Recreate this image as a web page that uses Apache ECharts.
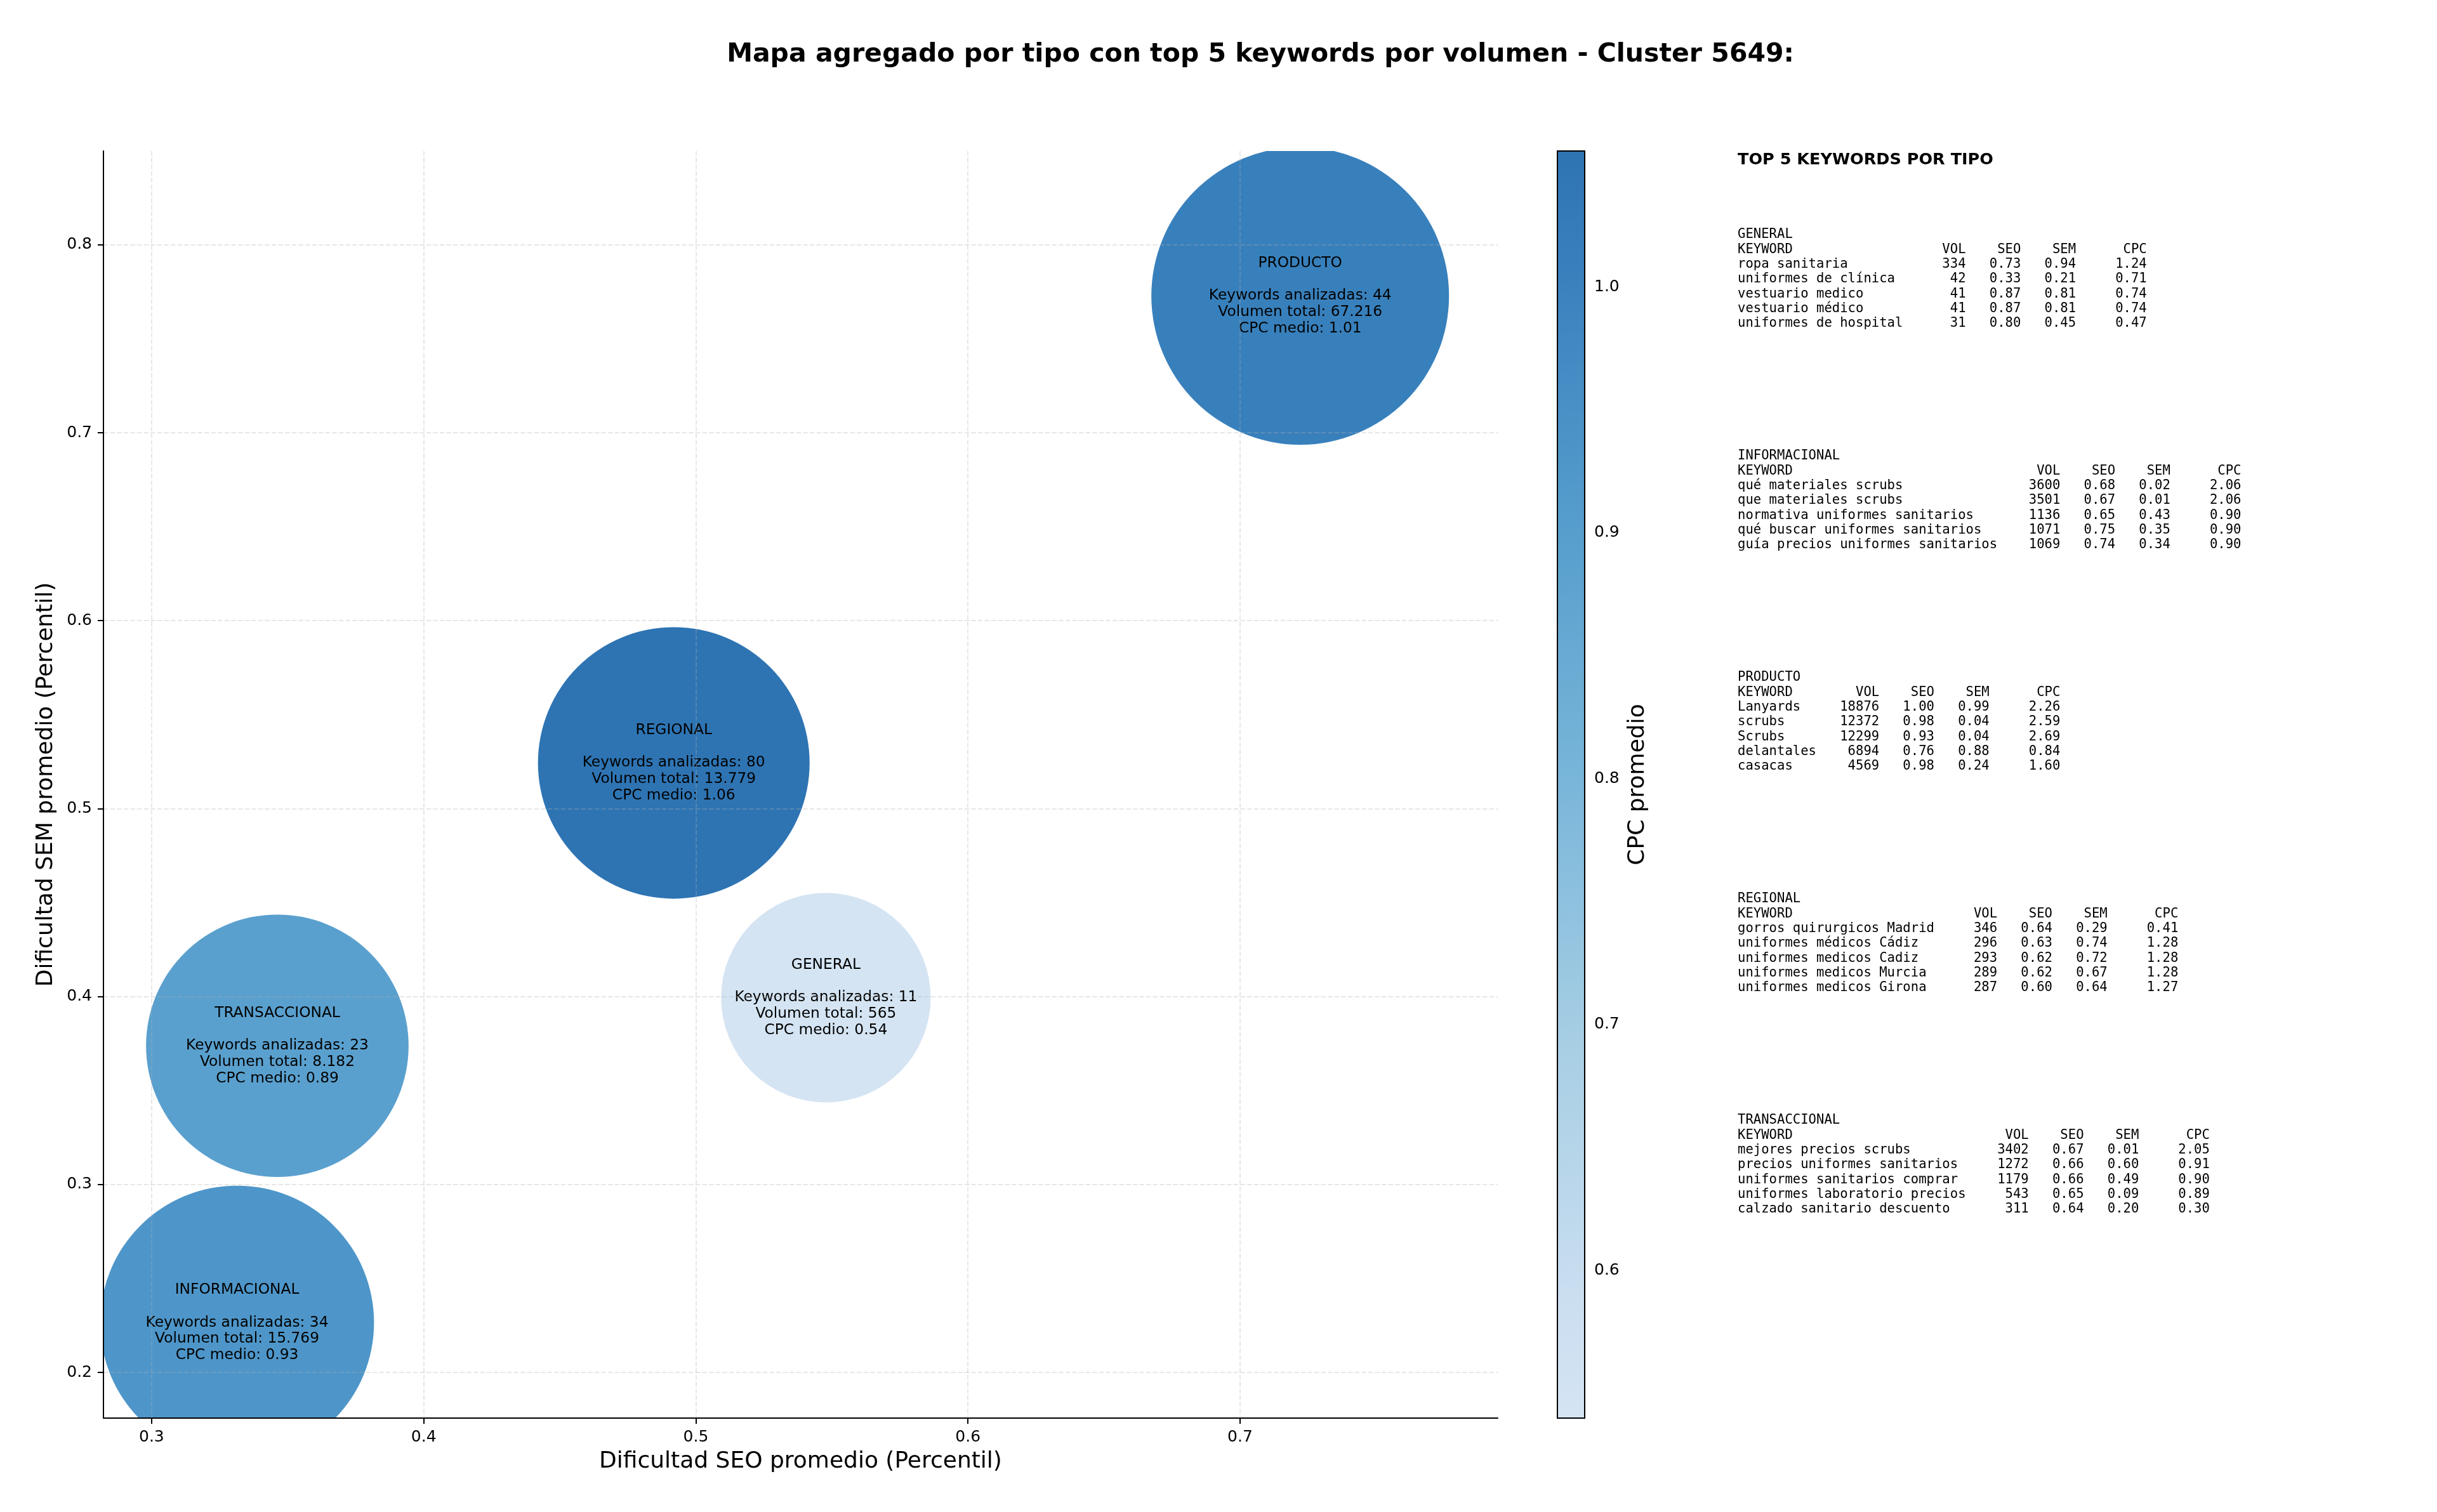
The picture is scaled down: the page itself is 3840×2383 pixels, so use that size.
<!DOCTYPE html>
<html>
<head>
<meta charset="utf-8">
<script src="https://cdn.jsdelivr.net/npm/echarts@6/dist/echarts.min.js"></script>
<style>
html,body{margin:0;padding:0;background:#ffffff;}
#chart{width:3840px;height:2383px;}
</style>
</head>
<body>
<div id="chart"></div>
<script>
// ---------------- DATA ----------------
const chartTitle = 'Mapa agregado por tipo con top 5 keywords por volumen - Cluster 5649:';
const xAxisName = 'Dificultad SEO promedio (Percentil)';
const yAxisName = 'Dificultad SEM promedio (Percentil)';
const colorbarName = 'CPC promedio';
const panelTitle = 'TOP 5 KEYWORDS POR TIPO';

const types    = ['GENERAL', 'INFORMACIONAL', 'PRODUCTO', 'REGIONAL', 'TRANSACCIONAL'];
const seoAvg   = [0.5478, 0.3314, 0.7221, 0.4919, 0.3462];
const semAvg   = [0.3994, 0.2265, 0.7728, 0.5243, 0.3738];
const cpcAvg   = [0.5400, 0.93, 1.01, 1.0553, 0.89];
const kwCount  = [11, 34, 44, 80, 23];
const volTotal = [565, 15769, 67216, 13779, 8182];

const xRange  = [0.2823, 0.7947];
const yRange  = [0.1757, 0.8499];
const cbRange = [0.5400, 1.0553];
const xTicks  = [0.3, 0.4, 0.5, 0.6, 0.7];
const yTicks  = [0.2, 0.3, 0.4, 0.5, 0.6, 0.7, 0.8];
const cbTicks = [0.6, 0.7, 0.8, 0.9, 1.0];

// top 5 keywords per type: [keyword, vol, seo, sem, cpc]
const topGENERAL = [
  ['ropa sanitaria', 334, 0.73, 0.94, 1.24],
  ['uniformes de clínica', 42, 0.33, 0.21, 0.71],
  ['vestuario medico', 41, 0.87, 0.81, 0.74],
  ['vestuario médico', 41, 0.87, 0.81, 0.74],
  ['uniformes de hospital', 31, 0.80, 0.45, 0.47]
];
const topINFORMACIONAL = [
  ['qué materiales scrubs', 3600, 0.68, 0.02, 2.06],
  ['que materiales scrubs', 3501, 0.67, 0.01, 2.06],
  ['normativa uniformes sanitarios', 1136, 0.65, 0.43, 0.90],
  ['qué buscar uniformes sanitarios', 1071, 0.75, 0.35, 0.90],
  ['guía precios uniformes sanitarios', 1069, 0.74, 0.34, 0.90]
];
const topPRODUCTO = [
  ['Lanyards', 18876, 1.00, 0.99, 2.26],
  ['scrubs', 12372, 0.98, 0.04, 2.59],
  ['Scrubs', 12299, 0.93, 0.04, 2.69],
  ['delantales', 6894, 0.76, 0.88, 0.84],
  ['casacas', 4569, 0.98, 0.24, 1.60]
];
const topREGIONAL = [
  ['gorros quirurgicos Madrid', 346, 0.64, 0.29, 0.41],
  ['uniformes médicos Cádiz', 296, 0.63, 0.74, 1.28],
  ['uniformes medicos Cadiz', 293, 0.62, 0.72, 1.28],
  ['uniformes medicos Murcia', 289, 0.62, 0.67, 1.28],
  ['uniformes medicos Girona', 287, 0.60, 0.64, 1.27]
];
const topTRANSACCIONAL = [
  ['mejores precios scrubs', 3402, 0.67, 0.01, 2.05],
  ['precios uniformes sanitarios', 1272, 0.66, 0.60, 0.91],
  ['uniformes sanitarios comprar', 1179, 0.66, 0.49, 0.90],
  ['uniformes laboratorio precios', 543, 0.65, 0.09, 0.89],
  ['calzado sanitario descuento', 311, 0.64, 0.20, 0.30]
];
const panelSections = [topGENERAL, topINFORMACIONAL, topPRODUCTO, topREGIONAL, topTRANSACCIONAL];

// ---------------- HELPERS ----------------
const BLUES = [[247,251,255],[222,235,247],[198,219,239],[158,202,225],[107,174,214],[66,146,198],[33,113,181],[8,81,156],[8,48,107]];
function blues(t) {
  const p = Math.max(0, Math.min(1, t)) * 8;
  const i = Math.min(7, Math.floor(p));
  const f = p - i;
  return BLUES[i].map((c, k) => c + (BLUES[i + 1][k] - c) * f);
}
// truncated Blues (0.2 .. 0.8), drawn with alpha 0.9 on white
function cmapColor(t) {
  const c = blues(0.2 + 0.6 * t).map(v => Math.round(v * 0.9 + 255 * 0.1));
  return 'rgb(' + c[0] + ',' + c[1] + ',' + c[2] + ')';
}
const NSTOP = 24;
const cmapStops = [];
for (let i = 0; i <= NSTOP; i++) cmapStops.push(cmapColor(i / NSTOP));

function fmtThousands(v) { return String(v).replace(/\B(?=(\d{3})+(?!\d))/g, '.'); }
function bubbleRadius(vol) { return Math.sqrt(13361 * Math.log10(vol) - 9500); }
function bubbleLabel(i) {
  return types[i] + '\n\nKeywords analizadas: ' + kwCount[i] +
    '\nVolumen total: ' + fmtThousands(volTotal[i]) +
    '\nCPC medio: ' + cpcAvg[i].toFixed(2);
}
function sectionText(name, rows) {
  const w = Math.max.apply(null, rows.map(r => r[0].length)) + 1;
  const lines = [name,
    'KEYWORD'.padEnd(w) + 'VOL'.padStart(7) + 'SEO'.padStart(7) + 'SEM'.padStart(7) + 'CPC'.padStart(9)];
  rows.forEach(r => {
    lines.push(r[0].padEnd(w) + String(r[1]).padStart(7) + r[2].toFixed(2).padStart(7) +
      r[3].toFixed(2).padStart(7) + r[4].toFixed(2).padStart(9));
  });
  return lines.join('\n');
}

const bubbleData = types.map((t, i) => [seoAvg[i], semAvg[i], cpcAvg[i], volTotal[i]]);

// ---------------- LAYOUT ----------------
const G = {left: 163, top: 238, width: 2197, height: 1997};
const CB = {left: 2454, top: 238, width: 43, height: 1997};
const FONT = 'DejaVu Sans';
const MONO = 'DejaVu Sans Mono';

const graphics = [
  {type: 'text', x: 1986, y: 86, style: {text: chartTitle, align: 'center', verticalAlign: 'middle',
    fontFamily: FONT, fontWeight: 'bold', fontSize: 41, fill: '#000'}},
  {type: 'text', x: 2738, y: 252, style: {text: panelTitle, align: 'left', verticalAlign: 'middle',
    fontFamily: FONT, fontWeight: 'bold', fontSize: 25.5, fill: '#000'}}
];
const LH = 23.3;
panelSections.forEach((rows, i) => {
  graphics.push({type: 'text', x: 2738, y: 370 + i * 349 - LH / 2,
    style: {text: sectionText(types[i], rows), align: 'left', verticalAlign: 'top',
      fontFamily: MONO, fontSize: 20.6, lineHeight: LH, fill: '#000'}});
});

const axisCommon = {
  axisLine: {show: true, lineStyle: {color: '#000', width: 2}},
  axisTick: {show: true, length: 9, lineStyle: {color: '#000', width: 2}},
  splitLine: {show: true, lineStyle: {color: 'rgba(176,176,176,0.3)', width: 2, type: [7.4, 3.2]}}
};

const option = {
  animation: false,
  backgroundColor: '#ffffff',
  graphic: graphics,
  grid: [
    {left: G.left, top: G.top, width: G.width, height: G.height, containLabel: false},
    {left: CB.left, top: CB.top, width: CB.width, height: CB.height, containLabel: false}
  ],
  xAxis: [
    Object.assign({}, axisCommon, {
      type: 'value', gridIndex: 0, min: xRange[0], max: xRange[1], z: 5,
      axisTick: Object.assign({}, axisCommon.axisTick, {customValues: xTicks}),
      axisLabel: {customValues: xTicks, formatter: v => v.toFixed(1), margin: 18,
        fontFamily: FONT, fontSize: 25, color: '#000'},
      name: xAxisName, nameLocation: 'middle', nameGap: 51,
      nameTextStyle: {fontFamily: FONT, fontSize: 36, color: '#000'}
    }),
    {type: 'value', gridIndex: 1, min: 0, max: 1, show: false}
  ],
  yAxis: [
    Object.assign({}, axisCommon, {
      type: 'value', gridIndex: 0, min: yRange[0], max: yRange[1], z: 5,
      axisTick: Object.assign({}, axisCommon.axisTick, {customValues: yTicks}),
      axisLabel: {customValues: yTicks, formatter: v => v.toFixed(1), margin: 18,
        fontFamily: FONT, fontSize: 25, color: '#000'},
      name: yAxisName, nameLocation: 'middle', nameGap: 72, nameRotate: 90,
      nameTextStyle: {fontFamily: FONT, fontSize: 36, color: '#000'}
    }),
    {
      type: 'value', gridIndex: 1, position: 'right', min: cbRange[0], max: cbRange[1],
      axisLine: {show: false},
      axisTick: {show: true, length: 9, customValues: cbTicks, lineStyle: {color: '#000', width: 2}},
      splitLine: {show: false},
      axisLabel: {customValues: cbTicks, formatter: v => v.toFixed(1), margin: 15,
        fontFamily: FONT, fontSize: 25, color: '#000'},
      name: colorbarName, nameLocation: 'middle', nameGap: 66, nameRotate: 90,
      nameTextStyle: {fontFamily: FONT, fontSize: 36, color: '#000'}
    }
  ],
  visualMap: [{
    type: 'continuous', show: false, seriesIndex: 0, dimension: 2,
    min: cbRange[0], max: cbRange[1], inRange: {color: cmapStops}
  }],
  series: [
    {
      type: 'custom', xAxisIndex: 0, yAxisIndex: 0, clip: true, z: 1,
      data: bubbleData,
      renderItem: function (params, api) {
        const c = api.coord([api.value(0), api.value(1)]);
        const r = bubbleRadius(api.value(3));
        return {
          type: 'group',
          children: [
            {type: 'circle', shape: {cx: c[0], cy: c[1], r: r}, style: {fill: api.visual('color')}},
            {type: 'text', x: c[0], y: c[1], z2: 10, style: {
              text: bubbleLabel(params.dataIndex), align: 'center', verticalAlign: 'middle',
              fontFamily: FONT, fontSize: 23.3, lineHeight: 25.8, fill: '#000'}}
          ]
        };
      }
    },
    {
      type: 'custom', xAxisIndex: 1, yAxisIndex: 1, silent: true, clip: false,
      data: [[0.5, 0.8]],
      renderItem: function (params) {
        const cs = params.coordSys;
        return {
          type: 'rect',
          shape: {x: cs.x, y: cs.y, width: cs.width, height: cs.height},
          style: {
            fill: new echarts.graphic.LinearGradient(0, 1, 0, 0,
              cmapStops.map((col, i) => ({offset: i / NSTOP, color: col}))),
            stroke: '#000', lineWidth: 2
          }
        };
      }
    }
  ]
};

const chart = echarts.init(document.getElementById('chart'), null, {renderer: 'canvas', width: 3840, height: 2383});
chart.setOption(option);
</script>
</body>
</html>
